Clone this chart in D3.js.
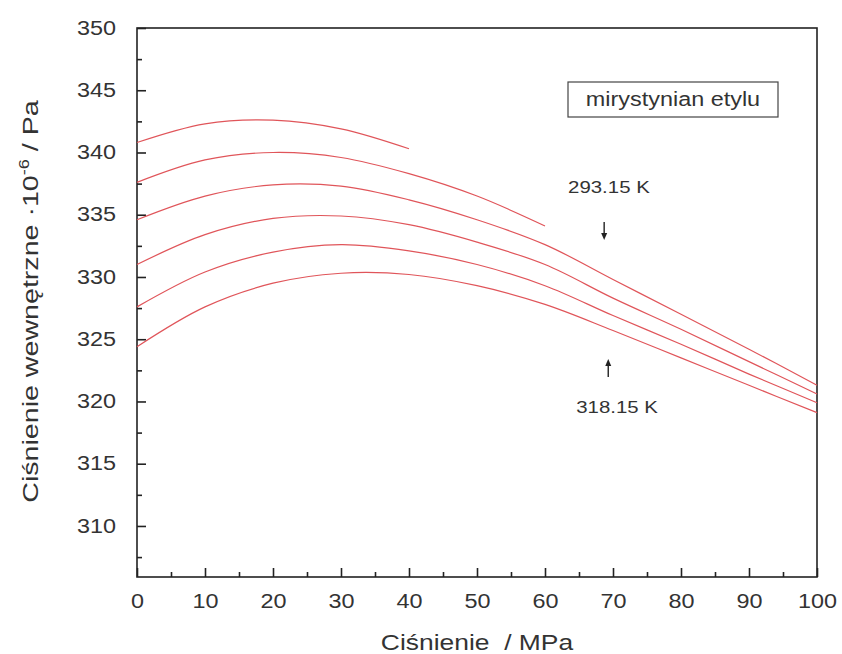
<!DOCTYPE html>
<html>
<head>
<meta charset="utf-8">
<script src="https://cdn.jsdelivr.net/npm/d3@7"></script>
<style>
  body { margin: 0; background: #fff; }
  text { font-family: "Liberation Sans", Arial, sans-serif; fill: #333; }
</style>
</head>
<body>
<div class="svgContainer"></div>
<script>
// Data (pressure / MPa vs internal pressure)
var P_FULL = [0, 10, 20, 30, 40, 50, 60, 70, 80, 90, 100];
var T293 = [340.8, 342.3, 342.6, 341.9, 340.3];
var T298 = [337.6, 339.4, 340.0, 339.6, 338.3, 336.5, 334.1];
var T303 = [334.6, 336.5, 337.4, 337.3, 336.2, 334.6, 332.6, 329.8, 327.0, 324.2, 321.3];
var T308 = [331.0, 333.4, 334.7, 334.9, 334.2, 332.8, 331.0, 328.3, 325.8, 323.2, 320.6];
var T313 = [327.6, 330.4, 332.0, 332.6, 332.1, 331.0, 329.3, 326.9, 324.6, 322.2, 319.9];
var T318 = [324.4, 327.6, 329.5, 330.3, 330.2, 329.3, 327.8, 325.7, 323.5, 321.3, 319.1];
var SERIES = [T293, T298, T303, T308, T313, T318];

var X_TICKS = [0, 10, 20, 30, 40, 50, 60, 70, 80, 90, 100];
var Y_TICKS = [310, 315, 320, 325, 330, 335, 340, 345, 350];

var margin = {left: 137, right: 25, top: 28, bottom: 77},
    width = 842 - margin.left - margin.right,
    height = 654 - margin.top - margin.bottom;

// the original image is a bit wider than tall, so text is stretched sideways
var STRETCH = 1.2;
function stretch(sel, k) {
    sel.each(function() {
        var w = this.getComputedTextLength();
        d3.select(this).attr("textLength", w * k).attr("lengthAdjust", "spacingAndGlyphs");
    });
}

var svg = d3.select(".svgContainer").append("svg")
    .attr("width", 842)
    .attr("height", 654)
    .append("g")
    .attr("transform", "translate(" + margin.left + "," + margin.top + ")");

var x = d3.scaleLinear().domain([0, 100]).range([0, width]);
var y = d3.scaleLinear().domain([305.9, 350]).range([height, 0]);

// frame
svg.append("rect")
    .attr("width", width).attr("height", height)
    .attr("fill", "none").attr("stroke", "#222").attr("stroke-width", 1.6);

// axes, ticks pointing inward
var xAxis = svg.append("g")
    .attr("transform", "translate(0," + height + ")")
    .call(d3.axisBottom(x).tickValues(X_TICKS).tickSize(-9).tickPadding(17));
xAxis.append("g").call(d3.axisBottom(x).tickValues(d3.range(5, 100, 10)).tickSize(-5).tickFormat(""));

var yAxis = svg.append("g")
    .call(d3.axisLeft(y).tickValues(Y_TICKS).tickSize(-9).tickPadding(21));
yAxis.append("g").call(d3.axisLeft(y).tickValues(d3.range(307.5, 350, 5)).tickSize(-5).tickFormat(""));

svg.selectAll(".domain").remove();
svg.selectAll(".tick line").attr("stroke", "#222").attr("stroke-width", 1.6);
svg.selectAll(".tick text").attr("font-size", 19.5).attr("fill", "#383838")
    .call(stretch, STRETCH);

// curves
var line = d3.line()
    .x(function(d, i) { return x(P_FULL[i]); })
    .y(function(d) { return y(d); })
    .curve(d3.curveCatmullRom);

svg.selectAll("path.curve")
    .data(SERIES)
    .enter().append("path")
    .attr("class", "curve")
    .attr("d", line)
    .attr("fill", "none")
    .attr("stroke", "#e0555a")
    .attr("stroke-width", 1.2);

// legend box
var box = svg.append("g").attr("transform", "translate(431,54)");
box.append("rect").attr("width", 210).attr("height", 35)
    .attr("fill", "#fff").attr("stroke", "#444").attr("stroke-width", 1.2);
box.append("text").attr("x", 105).attr("y", 24).attr("text-anchor", "middle")
    .attr("font-size", 19.5).text("mirystynian etylu").call(stretch, STRETCH);

// temperature annotations
svg.append("text").attr("x", x(69.4)).attr("y", 165).attr("text-anchor", "middle")
    .attr("font-size", 17).text("293.15 K").call(stretch, STRETCH);
svg.append("text").attr("x", x(70.6)).attr("y", 385).attr("text-anchor", "middle")
    .attr("font-size", 17).text("318.15 K").call(stretch, STRETCH);

// small arrows
svg.append("line").attr("x1", x(68.7)).attr("x2", x(68.7)).attr("y1", 194).attr("y2", 206)
    .attr("stroke", "#222").attr("stroke-width", 1.4);
svg.append("path")
    .attr("d", "M" + (x(68.7) - 3) + ",205L" + (x(68.7) + 3) + ",205L" + x(68.7) + ",212Z")
    .attr("fill", "#222");
svg.append("line").attr("x1", x(69.3)).attr("x2", x(69.3)).attr("y1", 337).attr("y2", 349)
    .attr("stroke", "#222").attr("stroke-width", 1.4);
svg.append("path")
    .attr("d", "M" + (x(69.3) - 3) + ",338L" + (x(69.3) + 3) + ",338L" + x(69.3) + ",331Z")
    .attr("fill", "#222");

// axis titles
svg.append("text")
    .attr("x", width / 2).attr("y", height + 73)
    .attr("text-anchor", "middle").attr("font-size", 22)
    .text("Ciśnienie\u00a0 / MPa").call(stretch, STRETCH);

var yt = svg.append("text")
    .attr("transform", "translate(-99," + (height / 2 - 1) + ") rotate(-90)")
    .attr("text-anchor", "middle").attr("font-size", 22);
yt.append("tspan").text("Ciśnienie wewnętrzne ·10");
yt.append("tspan").attr("dy", -9).attr("font-size", 14).text("-6");
yt.append("tspan").attr("dy", 9).text(" / Pa");
yt.call(stretch, 1.3);
</script>
</body>
</html>
